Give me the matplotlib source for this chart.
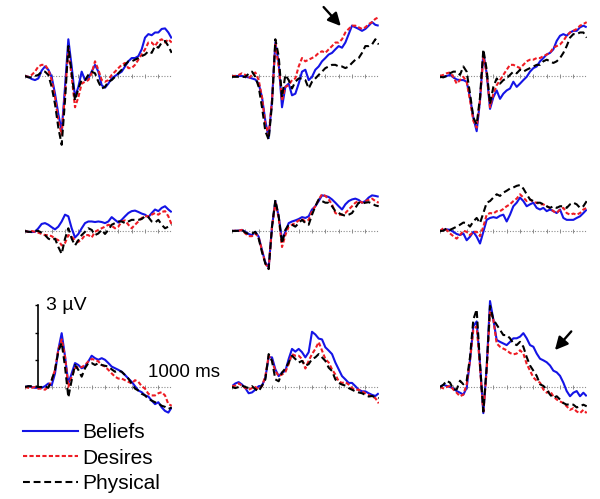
import numpy as np
import matplotlib
matplotlib.use("Agg")
import matplotlib.pyplot as plt
from matplotlib.lines import Line2D

plt.rcParams["font.family"] = ["Liberation Sans", "DejaVu Sans"]

# time axis of every waveform (ms), 25 ms steps
times = np.arange(-100, 1001, 25)

# amplitudes in microvolts, one list per condition and panel (row by row)
p1_beliefs = [0, -0.03, -0.11, -0.15, -0.09, 0.2, 0.35, 0.23, -0.03, -0.65, -1.4, -2.02, -0.4, 1.35, 0.35, -0.78, -0.4, 0.16, -0.15, -0.09, 0.16, 0.41, 0.16, -0.34, -0.43, -0.28, -0.09, 0, 0.08, 0.16, 0.35, 0.54, 0.66, 0.66, 0.73, 0.98, 1.41, 1.54, 1.5, 1.6, 1.6, 1.73, 1.75, 1.6, 1.38]
p1_desires = [0, -0.03, 0.04, 0.16, 0.35, 0.41, 0.41, 0.23, -0.15, -0.78, -1.65, -2.15, -0.65, 0.98, -0.03, -1.15, -0.78, -0.28, -0.21, -0.15, 0.1, 0.54, 0.23, -0.15, -0.21, -0.15, 0.04, 0.16, 0.29, 0.41, 0.48, 0.29, 0.29, 0.41, 0.6, 0.79, 0.98, 1.23, 1.23, 1.1, 1.29, 1.35, 1.23, 1.35, 1.23]
p1_physical = [0, -0.05, -0.05, 0, 0.04, 0.16, 0.16, 0.04, -0.4, -1.03, -1.9, -2.53, -0.9, 1.1, 0.1, -0.9, -0.46, -0.15, -0.15, 0.04, 0.16, 0.1, -0.21, -0.46, -0.4, -0.21, -0.15, -0.03, 0.1, 0.23, 0.41, 0.54, 0.54, 0.6, 0.66, 0.73, 0.79, 0.91, 0.85, 1.1, 1.04, 1.23, 1.29, 1.1, 0.85]

p2_beliefs = [0, 0, 0, 0, -0.03, -0.05, -0.09, -0.13, -0.28, -0.78, -1.65, -2.28, -0.9, 1.23, 0.48, -1.15, -0.4, -0.28, -0.71, -0.65, -0.28, 0.16, 0.23, -0.15, -0.03, 0.23, 0.35, 0.54, 0.66, 0.79, 0.85, 0.98, 1.1, 1.04, 1.23, 1.54, 1.85, 1.79, 1.73, 1.66, 1.73, 1.85, 1.98, 1.88, 1.85]
p2_desires = [0, 0, 0.04, 0.1, 0.04, -0.09, 0.04, 0.13, -0.15, -0.78, -1.78, -2.15, -0.9, 1.16, 0.35, -0.9, -0.4, -0.34, -0.15, -0.09, 0.35, 0.66, 0.54, 0.6, 0.66, 0.73, 0.85, 0.91, 0.85, 0.98, 1.1, 1.23, 1.23, 1.35, 1.6, 1.73, 1.85, 1.85, 1.79, 1.73, 1.79, 1.91, 1.98, 2.1, 2.16]
p2_physical = [-0.03, -0.03, -0.03, -0.03, -0.03, 0.08, 0.16, -0.03, -0.4, -1.15, -2.03, -2.34, -1.03, 1.35, 0.73, -0.78, 0.04, -0.15, -0.46, -0.21, -0.09, -0.09, -0.15, -0.46, -0.21, -0.09, 0.04, 0.16, 0.29, 0.35, 0.41, 0.41, 0.35, 0.35, 0.29, 0.35, 0.48, 0.6, 0.66, 0.85, 1.1, 1.1, 1.16, 1.35, 1.16]

p3_beliefs = [0, -0.03, 0, 0.04, -0.05, -0.13, -0.15, -0.15, -0.21, -0.78, -1.53, -2.03, -0.9, 0.85, 0.1, -1.21, -0.78, -0.53, -0.84, -0.65, -0.53, -0.46, -0.21, -0.4, -0.28, -0.15, -0.03, 0.16, 0.29, 0.35, 0.54, 0.66, 0.79, 0.85, 0.98, 1.29, 1.48, 1.54, 1.48, 1.6, 1.66, 1.66, 1.79, 1.85, 1.79]
p3_desires = [0, 0.04, 0.1, 0.13, -0.03, -0.28, -0.15, -0.03, -0.21, -0.9, -1.65, -1.9, -0.9, 0.73, 0.1, -1.15, -0.65, -0.34, -0.15, 0.04, 0.23, 0.41, 0.41, 0.35, 0.29, 0.41, 0.54, 0.6, 0.6, 0.66, 0.66, 0.73, 0.79, 0.85, 1.04, 1.1, 1.16, 1.29, 1.48, 1.6, 1.66, 1.73, 1.85, 1.91, 1.98]
p3_physical = [-0.03, -0.05, 0, 0.1, 0.16, 0.16, 0.04, 0.35, 0.16, -0.65, -1.53, -1.78, -0.78, 0.98, 0.23, -1.03, -0.4, -0.09, -0.28, -0.15, -0.09, 0.04, 0.16, 0.1, 0.23, 0.16, 0.23, 0.29, 0.35, 0.41, 0.41, 0.54, 0.6, 0.54, 0.48, 0.54, 0.66, 0.85, 1.1, 1.41, 1.54, 1.54, 1.6, 1.6, 1.41]

p4_beliefs = [0, -0.03, -0.04, -0.03, 0.1, 0.26, 0.29, 0.23, 0.14, 0.06, 0.16, 0.35, 0.6, 0.54, 0.1, -0.24, -0.11, 0.1, 0.29, 0.35, 0.35, 0.33, 0.35, 0.33, 0.29, 0.35, 0.51, 0.41, 0.31, 0.41, 0.54, 0.66, 0.73, 0.75, 0.7, 0.64, 0.6, 0.51, 0.66, 0.79, 0.73, 0.85, 0.91, 0.79, 0.69]
p4_desires = [0, -0.03, 0, -0.03, -0.06, -0.11, -0.15, -0.15, -0.19, -0.28, -0.34, -0.53, -0.44, -0.15, -0.21, -0.34, -0.4, -0.31, -0.15, -0.15, -0.24, -0.03, 0.04, 0.1, 0.16, 0.23, 0.19, 0.1, 0.16, 0.35, 0.39, 0.23, 0.1, 0.23, 0.35, 0.48, 0.54, 0.54, 0.6, 0.66, 0.6, 0.7, 0.73, 0.54, 0.23]
p4_physical = [0, -0.03, -0.03, 0.01, 0, -0.06, -0.15, -0.28, -0.34, -0.28, -0.59, -0.84, -0.28, 0.1, -0.28, -0.53, -0.34, -0.15, -0.03, 0.1, 0.04, -0.15, -0.09, 0.04, -0.11, 0.04, 0.23, 0.29, 0.35, 0.35, 0.29, 0.35, 0.41, 0.41, 0.41, 0.44, 0.54, 0.51, 0.35, 0.31, 0.41, 0.23, 0.1, 0.16, 0.23]

p5_beliefs = [0, 0.01, 0.01, 0.04, -0.03, -0.11, -0.15, -0.03, -0.21, -0.71, -1.15, -1.34, 0.16, 1.1, 0.54, -0.34, -0.03, 0.29, 0.35, 0.39, 0.44, 0.51, 0.48, 0.54, 0.79, 0.91, 1.1, 1.31, 1.29, 1.25, 1.16, 1.04, 0.91, 0.79, 0.98, 1.1, 1.16, 1.19, 1.14, 1.04, 1.1, 1.23, 1.31, 1.29, 1.26]
p5_desires = [0, 0.01, 0.01, 0.04, -0.09, -0.19, -0.19, -0.09, -0.24, -0.71, -1.2, -1.38, 0.16, 1.04, 0.48, -0.59, -0.15, 0.16, 0.23, 0.29, 0.39, 0.44, 0.35, 0.41, 0.73, 0.91, 1.16, 1.35, 1.29, 1.16, 0.98, 0.66, 0.6, 0.6, 0.66, 0.79, 0.91, 1.04, 1.1, 1.04, 1.1, 1.14, 1.19, 1.1, 1.04]
p5_physical = [0, 0, 0.01, 0.04, -0.06, -0.11, -0.09, -0.03, -0.28, -0.78, -1.2, -1.4, 0.16, 1.14, 0.54, -0.46, 0.04, 0.23, 0.23, 0.16, 0.29, 0.41, 0.29, 0.23, 0.6, 0.91, 1.16, 1.1, 1.04, 1.04, 0.91, 0.73, 0.66, 0.6, 0.56, 0.6, 0.66, 0.85, 1.04, 1.01, 1.04, 1.06, 1.01, 0.94, 0.91]

p6_beliefs = [0, 0.04, 0.06, 0.04, -0.03, -0.11, -0.15, -0.09, -0.34, -0.21, -0.03, -0.21, -0.46, -0.03, 0.41, 0.48, 0.51, 0.48, 0.56, 0.6, 0.35, 0.6, 0.91, 1.04, 1.23, 1.1, 0.91, 0.98, 1.04, 0.85, 0.79, 0.85, 0.73, 0.79, 0.73, 0.66, 0.79, 0.48, 0.41, 0.41, 0.41, 0.48, 0.54, 0.66, 0.79]
p6_desires = [0, 0.1, 0.04, -0.09, -0.19, -0.28, -0.15, 0.01, -0.03, -0.15, -0.03, -0.03, -0.19, 0.16, 0.6, 0.66, 0.64, 0.73, 0.73, 0.81, 0.91, 0.98, 1.1, 1.19, 1.35, 1.23, 1.1, 1.16, 1.06, 1.04, 0.98, 0.98, 0.91, 0.85, 0.73, 0.66, 0.79, 0.85, 0.66, 0.6, 0.64, 0.6, 0.66, 0.79, 0.85]
p6_physical = [0, 0.01, 0.1, 0.04, 0.1, 0.16, 0.23, 0.31, 0.29, 0.16, 0.35, 0.48, 0.29, 0.66, 1.04, 1.1, 1.23, 1.35, 1.29, 1.41, 1.48, 1.56, 1.6, 1.66, 1.69, 1.56, 1.35, 1.16, 1.1, 1.04, 1.04, 0.98, 0.91, 0.85, 0.91, 0.85, 0.91, 0.91, 0.85, 0.98, 1.04, 0.98, 0.85, 0.91, 1.1]

p7_beliefs = [0, 0.03, 0, -0.03, -0.03, -0.03, 0.03, 0.13, 0.06, 0.5, 1.38, 1.98, 1.13, 0.13, 0.5, 0.88, 0.81, 0.69, 0.75, 0.94, 1.15, 1.06, 1.0, 1.06, 1.0, 0.88, 0.75, 0.69, 0.63, 0.56, 0.44, 0.31, 0.19, 0.03, -0.13, -0.19, -0.31, -0.35, -0.5, -0.63, -0.56, -0.75, -0.88, -0.94, -0.75]
p7_desires = [0, -0.03, -0.03, 0, -0.06, -0.06, -0.1, 0, 0.25, 0.63, 1.38, 1.75, 1.13, 0, 0.38, 0.69, 0.75, 0.73, 0.81, 0.94, 1.03, 1.0, 0.94, 0.81, 0.75, 0.63, 0.5, 0.38, 0.31, 0.31, 0.25, 0.19, 0.13, 0.25, 0.19, 0.03, -0.06, -0.25, -0.31, -0.31, -0.23, -0.19, -0.31, -0.63, -0.69]
p7_physical = [0, 0.03, 0.03, 0.03, 0, 0, 0.03, -0.03, 0.25, 0.63, 1.31, 1.63, 0.75, -0.38, 0.25, 0.81, 0.63, 0.38, 0.69, 0.88, 0.88, 0.81, 0.88, 0.81, 0.78, 0.75, 0.65, 0.56, 0.6, 0.56, 0.44, 0.31, 0.13, -0.06, -0.13, -0.25, -0.31, -0.44, -0.5, -0.56, -0.6, -0.69, -0.73, -0.81, -0.75]

p8_beliefs = [0.03, 0.13, 0.18, 0.09, -0.04, -0.23, -0.2, -0.1, 0.03, 0.05, 0.34, 1.09, 1.09, 0.65, 0.4, 0.53, 0.59, 1.03, 1.4, 1.3, 1.4, 1.28, 1.09, 1.28, 2.03, 1.93, 1.78, 1.75, 1.46, 1.34, 1.21, 0.9, 0.65, 0.4, 0.28, 0.15, 0.15, 0.03, -0.1, -0.16, -0.16, -0.23, -0.29, -0.33, -0.23]
p8_desires = [0.03, 0.05, 0.13, 0.05, -0.04, -0.1, -0.04, 0, -0.08, 0.03, 0.4, 1.15, 0.96, 0.59, 0.4, 0.46, 0.55, 0.84, 1.21, 1.15, 1.15, 1.03, 0.68, 0.96, 1.21, 1.4, 1.65, 1.34, 1.03, 0.9, 0.65, 0.46, 0.21, 0.15, 0.18, 0.09, -0.04, -0.1, -0.1, -0.16, -0.23, -0.29, -0.35, -0.41, -0.6]
p8_physical = [0, -0.04, 0, 0.05, 0, -0.04, 0.03, -0.08, -0.16, 0.05, 0.28, 1.21, 0.96, 0.28, 0.21, 0.53, 0.68, 0.9, 1.15, 1.03, 0.9, 0.96, 0.78, 0.84, 1.03, 1.09, 1.21, 1.09, 0.96, 0.71, 0.59, 0.28, 0.15, 0.09, 0.05, -0.04, -0.1, -0.16, -0.2, -0.23, -0.29, -0.35, -0.33, -0.38, -0.41]

p9_beliefs = [0, 0.08, 0.04, 0, -0.05, -0.15, -0.21, -0.28, -0.03, 0.98, 2.23, 2.41, 0.85, -0.96, 0.73, 3.16, 2.48, 1.73, 1.66, 1.6, 1.54, 1.66, 1.79, 1.79, 1.85, 1.98, 1.79, 1.54, 1.48, 1.23, 1.04, 0.98, 0.91, 0.79, 0.6, 0.54, 0.41, 0.16, -0.15, -0.34, -0.21, -0.15, -0.34, -0.21, -0.34]
p9_desires = [0, -0.05, 0, 0.04, -0.09, -0.21, -0.34, -0.28, 0.1, 0.98, 2.1, 2.23, 0.73, -0.96, 0.6, 2.79, 2.48, 1.6, 1.48, 1.41, 1.35, 1.25, 1.2, 1.23, 1.35, 1.23, 0.85, 0.6, 0.35, 0.23, 0.16, -0.09, -0.21, -0.15, -0.34, -0.46, -0.53, -0.59, -0.71, -0.84, -0.78, -0.9, -0.96, -0.84, -0.96]
p9_physical = [0, 0.08, 0.23, 0.16, -0.09, -0.09, 0.23, 0.1, 0.23, 1.1, 2.48, 2.85, 0.85, -0.9, 0.73, 2.98, 2.48, 2.29, 2.1, 1.91, 1.91, 1.79, 1.6, 1.54, 1.66, 1.48, 1.1, 0.79, 0.6, 0.41, 0.1, 0.04, -0.09, -0.28, -0.4, -0.34, -0.46, -0.59, -0.65, -0.63, -0.65, -0.75, -0.71, -0.65, -0.71]

panels = [
    (p1_beliefs, p1_desires, p1_physical),
    (p2_beliefs, p2_desires, p2_physical),
    (p3_beliefs, p3_desires, p3_physical),
    (p4_beliefs, p4_desires, p4_physical),
    (p5_beliefs, p5_desires, p5_physical),
    (p6_beliefs, p6_desires, p6_physical),
    (p7_beliefs, p7_desires, p7_physical),
    (p8_beliefs, p8_desires, p8_physical),
    (p9_beliefs, p9_desires, p9_physical),
]
labels = ["Beliefs", "Desires", "Physical"]
scale_uv = [1, 2, 3]
baseline_ticks = np.arange(-100, 1001, 100)

# layout in pixels of a 600x499 figure
W, H = 600, 499
col_left = [25, 232, 440]
row_base = [76, 231, 387]
panel_w = 146.7
px_per_uv = 27.2
ylo, yhi = -3.0, 3.4

styles = [
    dict(color="#1414e6", lw=1.5, ls="-"),
    dict(color="#ee1c24", lw=1.5, ls=(0, (2.0, 1.1))),
    dict(color="black", lw=1.5, ls=(0, (3.3, 1.8))),
]

fig = plt.figure(figsize=(6, 4.99), dpi=100)

axes = []
for i, series in enumerate(panels):
    r, c = divmod(i, 3)
    left = col_left[c] / W
    bottom = 1 - (row_base[r] - ylo * px_per_uv) / H
    height = (yhi - ylo) * px_per_uv / H
    ax = fig.add_axes([left, bottom, panel_w / W, height])
    ax.patch.set_alpha(0)
    ax.set_xlim(-100, 1000)
    ax.set_ylim(ylo, yhi)
    ax.axis("off")

    # dotted baseline with small time ticks
    ax.plot([-100, 1000], [0, 0], color="#8c8c8c", lw=0.8, ls=(0, (1, 1.5)), zorder=1)
    ax.vlines(baseline_ticks, -0.06, 0.06, color="#8c8c8c", lw=0.7, zorder=1)

    for vals, st in zip(series, styles):
        ax.plot(times, vals, solid_capstyle="butt", zorder=2, **st)
    axes.append(ax)

# voltage scale bar on the bottom-left panel
ax7 = axes[6]
ax7.plot([0, 0], [0, 3], color="black", lw=1.2, zorder=3)
ax7.hlines(scale_uv, -22, 0, color="black", lw=1.0, zorder=3)
ax7.text(58, 2.98, "3 µV", fontsize=14, va="center", ha="left")
ax7.text(820, 0.55, "1000 ms", fontsize=13.5, va="center", ha="left")

# arrows marking the condition differences
axes[1].annotate("", xy=(730, 1.76), xytext=(573, 2.61),
                 arrowprops=dict(arrowstyle="-|>", color="black", lw=1.7, mutation_scale=19))
axes[8].annotate("", xy=(748, 1.28), xytext=(898, 2.12),
                 arrowprops=dict(arrowstyle="-|>", color="black", lw=1.7, mutation_scale=19))

legend_handles = [Line2D([], [], **st) for st in styles]
fig.legend(legend_handles, labels, loc="upper left", bbox_to_anchor=(23 / W, 1 - 423 / H),
           frameon=False, fontsize=15, handlelength=2.65, handletextpad=0.2,
           labelspacing=0.32, borderpad=0, borderaxespad=0)

fig.savefig("out.png", dpi=100)
